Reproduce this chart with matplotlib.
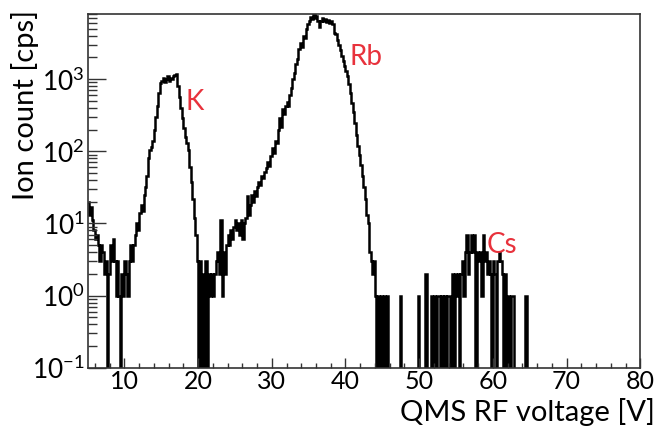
import numpy as np
import matplotlib
matplotlib.use("Agg")
import matplotlib.pyplot as plt
from matplotlib.ticker import MultipleLocator, LogLocator, FuncFormatter, NullFormatter

# ---- data ----
bin_start = 5.0   # V
bin_width = 0.2   # V
counts = [
    20, 13, 17, 11, 8, 6, 7, 5, 3, 5,                # 5.0 - 6.8
    4, 2, 3, 0, 2, 5, 3, 6, 3, 1,                    # 7.0 - 8.8
    3, 1, 0, 2, 1, 3, 2, 1, 3, 5,                    # 9.0 - 10.8
    3, 5, 7, 10, 8, 14, 18, 15, 25, 32,              # 11.0 - 12.8
    45, 80, 105, 115, 140, 200, 300, 420, 650, 880,  # 13.0 - 14.8
    950, 1050, 900, 1000, 1100, 950, 1050, 1000, 1100, 1150,  # 15.0 - 16.8
    1180, 800, 560, 400, 290, 210, 160, 130, 105, 60,  # 17.0 - 18.8
    38, 22, 12, 7, 3, 0, 3, 0, 2, 0,                 # 19.0 - 20.8
    3, 0, 2, 1, 2, 1, 2, 3, 4, 2,                    # 21.0 - 22.8
    11, 1, 4, 2, 5, 7, 5, 8, 6, 9,                   # 23.0 - 24.8
    11, 8, 10, 7, 11, 6, 10, 12, 24, 13,             # 25.0 - 26.8
    18, 25, 20, 28, 24, 32, 38, 34, 45, 42,          # 27.0 - 28.8
    52, 58, 70, 62, 85, 110, 95, 140, 130, 200,      # 29.0 - 30.8
    290, 220, 380, 330, 420, 480, 420, 600, 750, 1000,  # 31.0 - 32.8
    1200, 1600, 1900, 2600, 3200, 2800, 4000, 3700, 5000, 5800,  # 33.0 - 34.8
    6500, 7200, 6800, 7900, 7000, 7500, 6300, 5200, 6500, 7000,  # 35.0 - 36.8
    6300, 6800, 6200, 6600, 6000, 6500, 5900, 4400, 4200, 3500,  # 37.0 - 38.8
    3000, 2500, 2100, 1800, 1500, 1300, 1100, 850, 650, 470,     # 39.0 - 40.8
    350, 250, 170, 120, 90, 65, 45, 32, 22, 13,      # 41.0 - 42.8
    10, 4, 3, 2, 3, 1, 0, 1, 0, 1,                   # 43.0 - 44.8
    0, 1, 0, 1, 0, 0, 0, 0, 0, 0,                    # 45.0 - 46.8
    0, 0, 1, 0, 0, 0, 0, 0, 0, 0,                    # 47.0 - 48.8
    0, 0, 0, 0, 1, 0, 0, 0, 0, 2,                    # 49.0 - 50.8
    0, 0, 0, 1, 0, 1, 0, 1, 1, 0,                    # 51.0 - 52.8
    1, 0, 1, 0, 1, 1, 0, 2, 0, 2,                    # 53.0 - 54.8
    1, 2, 0, 2, 3, 1, 4, 7, 2, 4,                    # 55.0 - 56.8
    7, 4, 7, 0, 4, 3, 4, 1, 7, 3,                    # 57.0 - 58.8
    4, 2, 3, 2, 0, 3, 2, 0, 3, 4,                    # 59.0 - 60.8
    3, 2, 0, 2, 0, 1, 0, 1, 1, 0,                    # 61.0 - 62.8
    0, 0, 0, 0, 0, 0, 0, 1, 0, 0,                    # 63.0 - 64.8
]
peak_labels = ["K", "Rb", "Cs"]
peak_label_x = [19.6, 42.8, 61.2]
peak_label_y = [480, 2000, 5.1]

x_range = (5, 80)
y_range = (0.1, 8000)
xlabel = "QMS RF voltage [V]"
ylabel = "Ion count [cps]"

# ---- style ----
FONT = "Lato"
plt.rcParams['font.family'] = [FONT, 'DejaVu Sans']
plt.rcParams['mathtext.fontset'] = 'custom'
plt.rcParams['mathtext.rm'] = FONT
plt.rcParams['mathtext.it'] = FONT + ':italic'
plt.rcParams['mathtext.bf'] = FONT + ':bold'

fig = plt.figure(figsize=(6.57, 4.28), dpi=100)
ax = fig.add_axes([87.5 / 657, 1 - 367.7 / 428, (640.3 - 87.5) / 657, (367.7 - 14) / 428])

edges = bin_start + bin_width * np.arange(len(counts) + 1)
ax.stairs(np.array(counts, dtype=float), edges, baseline=None, color="black", lw=1.8)

ax.set_yscale("log", nonpositive="clip")
ax.set_xlim(*x_range)
ax.set_ylim(*y_range)

ax.xaxis.set_major_locator(MultipleLocator(10))
ax.xaxis.set_minor_locator(MultipleLocator(2))
ax.yaxis.set_major_locator(LogLocator(base=10, numticks=20))
ax.yaxis.set_minor_locator(LogLocator(base=10, subs=np.arange(2, 10), numticks=20))
ax.yaxis.set_minor_formatter(NullFormatter())


def fmt_log(v, pos):
    e = int(round(np.log10(v)))
    return r"$\mathregular{10^{%d}}$" % e


ax.yaxis.set_major_formatter(FuncFormatter(fmt_log))

frame_color = "#333333"
for s in ax.spines.values():
    s.set_color(frame_color)
    s.set_linewidth(1.2)

ax.tick_params(axis="both", which="both", direction="in", colors=frame_color,
               labelcolor="black", top=False, right=False, width=1.0)
ax.tick_params(axis="x", which="major", length=7.5, pad=2, labelsize=18)
ax.tick_params(axis="x", which="minor", length=3.5)
ax.tick_params(axis="y", which="major", length=13, pad=2, labelsize=19)
ax.tick_params(axis="y", which="minor", length=6.2)

fig.text(655 / 657, 1 - 421 / 428, xlabel, fontsize=21, ha="right", va="baseline")
fig.text(25 / 657, 1 - 10 / 428, ylabel, fontsize=21, ha="center", va="top", rotation=90)

red = "#e8323c"
for t, x, y in zip(peak_labels, peak_label_x, peak_label_y):
    ax.text(x, y, t, color=red, fontsize=20, ha="center", va="center")

fig.savefig("out.png", dpi=100)
